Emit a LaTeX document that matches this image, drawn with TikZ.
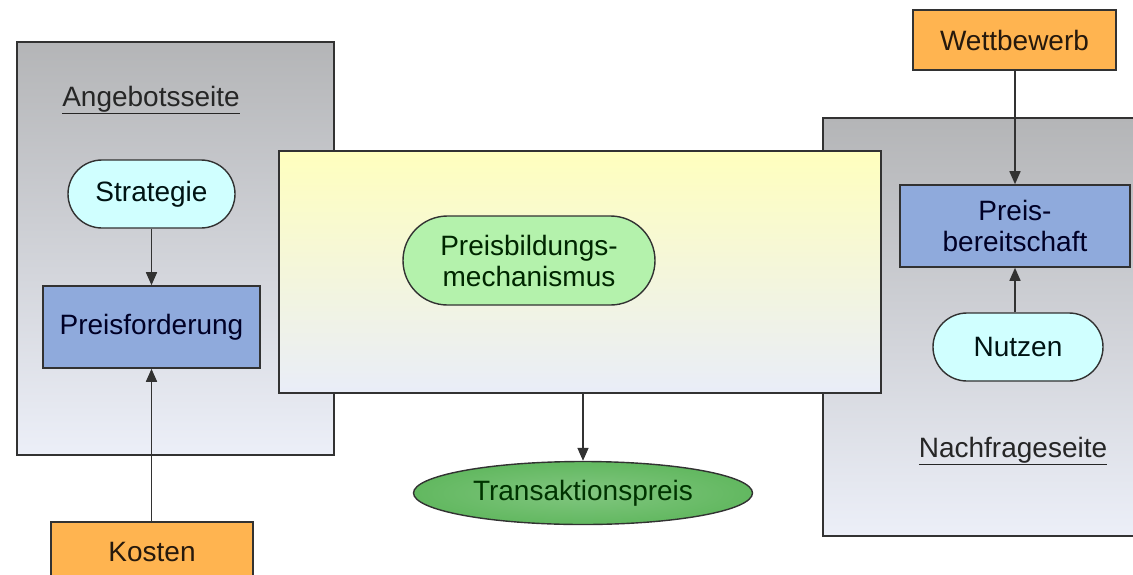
\documentclass[tikz,border=0pt]{standalone}
\usepackage{fontspec}
\setmainfont{Liberation Sans}
\usetikzlibrary{arrows.meta,shapes.geometric}
\definecolor{sidetop}{RGB}{180,181,183}
\definecolor{sidebot}{RGB}{236,239,248}
\definecolor{midtop}{RGB}{255,255,190}
\definecolor{midbot}{RGB}{233,237,248}
\definecolor{cyanfill}{RGB}{208,255,255}
\definecolor{bluefill}{RGB}{143,170,220}
\definecolor{lightgreen}{RGB}{180,242,172}
\definecolor{darkgreen}{RGB}{98,184,96}
\definecolor{orangefill}{RGB}{255,180,80}
\definecolor{edge}{RGB}{50,50,50}
\newcommand{\ulabel}[1]{\underline{#1}}
\begin{document}
\begin{tikzpicture}[x=1pt,y=-1pt,
  every node/.style={font=\fontsize{28}{31}\selectfont, align=center, inner sep=0pt},
  panel/.style={draw=edge, line width=1.6pt, shade, top color=sidetop, bottom color=sidebot},
  centerpanel/.style={draw=edge, line width=1.6pt, shade, top color=midtop, bottom color=midbot},
  pill/.style={draw=edge, line width=1.4pt, fill=cyanfill, minimum width=167pt, minimum height=68pt, rounded corners=34pt, text=black!85!teal},
  bluebox/.style={draw=edge, line width=1.6pt, fill=bluefill, text=black!85!blue},
  orangebox/.style={draw=edge, line width=1.6pt, fill=orangefill, text=black!80!brown},
  arr/.style={draw=edge, line width=1.6pt, -{Triangle[length=13pt,width=11pt]}},
  sidetitle/.style={text=black!85}]
\useasboundingbox (0,0) rectangle (1133,574);
\clip (0,0) rectangle (1133,574);

% supply and demand panels
\node[panel, minimum width=317pt, minimum height=413pt] (supply) at (175.5,248.5) {};
\node[panel, minimum width=323pt, minimum height=418pt] (demand) at (984.5,327) {};
% price formation panel
\node[centerpanel, minimum width=602pt, minimum height=242pt] (mid) at (580,272) {};

% supply side
\node[sidetitle] (suptitle) at (151,100) {\ulabel{Angebotsseite}};
\node[pill] (strat) at (151.5,194) {Strategie};
\node[bluebox, minimum width=217pt, minimum height=82pt] (pf) at (151.5,327) {Preisforderung};
\node[orangebox, minimum width=202pt, minimum height=60pt] (kosten) at (152,552) {Kosten};

% demand side
\node[orangebox, minimum width=203pt, minimum height=60pt] (wett) at (1014.5,40) {Wettbewerb};
\node[bluebox, minimum width=230pt, minimum height=82pt] (pb) at (1015,226) {Preis-\\bereitschaft};
\node[pill, minimum width=170pt] (nutzen) at (1018,347) {Nutzen};
\node[sidetitle] (demtitle) at (1013,451) {\ulabel{Nachfrageseite}};

% price formation
\node[draw=edge, line width=1.4pt, fill=lightgreen, minimum width=252pt, minimum height=89pt, rounded corners=44.5pt, text=black!75!green!60!black] (mech) at (529,260.5) {Preisbildungs-\\mechanismus};
\node[draw=edge, line width=1.4pt, ellipse, inner color=darkgreen!80!white, outer color=darkgreen, minimum width=339pt, minimum height=63pt, text=black!80!green] (tp) at (583,493) {Transaktionspreis};

% connectors
\draw[arr] (strat.south) -- (pf.north);
\draw[arr] (kosten.north -| pf.south) -- (pf.south);
\draw[arr] (wett.south -| pb.north) -- (pb.north);
\draw[arr] (pb.south |- nutzen.north) -- (pb.south);
\draw[arr] (mid.south -| tp.north) -- (tp.north);
\end{tikzpicture}
\end{document}
